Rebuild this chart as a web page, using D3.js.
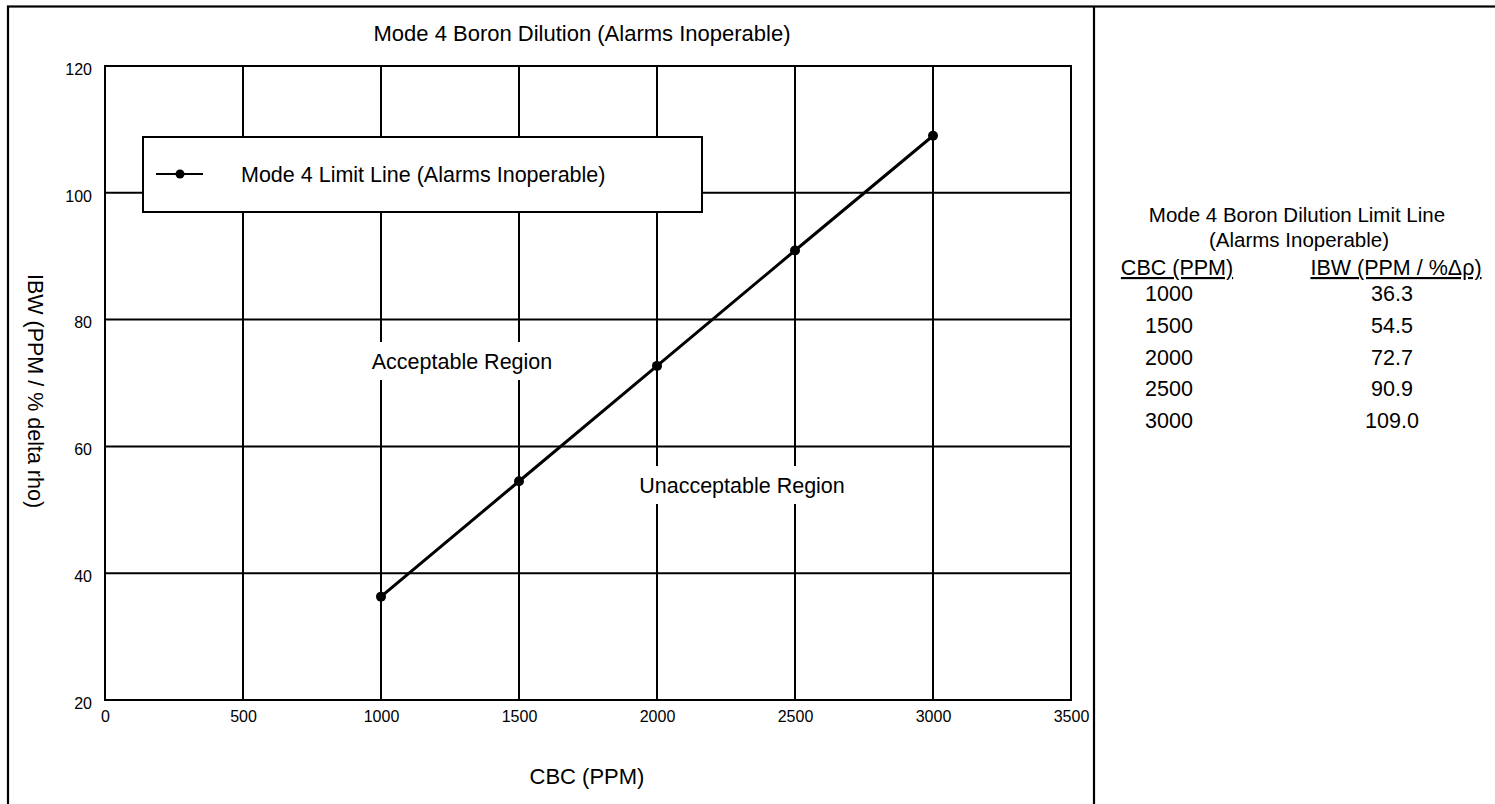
<!DOCTYPE html>
<html><head><meta charset="utf-8">
<script src="https://cdn.jsdelivr.net/npm/d3@7"></script>
<style>body{margin:0;background:#fff}text{font-family:"Liberation Sans",Arial,sans-serif;fill:#000}</style>
</head><body>
<svg id="c" width="1495" height="804"></svg>
<script>
const cbc = [1000, 1500, 2000, 2500, 3000];
const ibw = [36.3, 54.5, 72.7, 90.9, 109.0];
const xTicks = [0, 500, 1000, 1500, 2000, 2500, 3000, 3500];
const yTicks = [20, 40, 60, 80, 100, 120];
const tableCbc = ["1000", "1500", "2000", "2500", "3000"];
const tableIbw = ["36.3", "54.5", "72.7", "90.9", "109.0"];

const FONT = "Liberation Sans, Arial, sans-serif";
const svg = d3.select("#c");
const x = d3.scaleLinear().domain([0, 3500]).range([105, 1071]);
const y = d3.scaleLinear().domain([20, 120]).range([700, 66]);

// outer frame
svg.append("rect").attr("x", 8).attr("y", 6.5).attr("width", 1500).attr("height", 820)
  .attr("fill", "none").attr("stroke", "#000").attr("stroke-width", 2.2);
svg.append("line").attr("x1", 1094).attr("x2", 1094).attr("y1", 6).attr("y2", 804)
  .attr("stroke", "#000").attr("stroke-width", 2.2);

// grid
const g = svg.append("g");
g.selectAll(".vg").data(xTicks).join("line")
  .attr("x1", d => x(d)).attr("x2", d => x(d)).attr("y1", y(120)).attr("y2", y(20))
  .attr("stroke", "#000").attr("stroke-width", 2);
g.selectAll(".hg").data(yTicks).join("line")
  .attr("y1", d => y(d)).attr("y2", d => y(d)).attr("x1", x(0) - 1).attr("x2", x(3500) + 1)
  .attr("stroke", "#000").attr("stroke-width", 2);

// axes labels
const xAxis = d3.axisBottom(x).tickValues(xTicks).tickSize(0).tickPadding(11).tickFormat(d3.format("d"));
const xa = svg.append("g").attr("transform", `translate(0,${y(20)})`).call(xAxis);
xa.select(".domain").remove();
xa.selectAll("text").attr("font-size", 16).attr("font-family", FONT);
const yAxis = d3.axisLeft(y).tickValues(yTicks).tickSize(0).tickPadding(13).tickFormat(d3.format("d"));
const ya = svg.append("g").attr("transform", `translate(${x(0)},0)`).call(yAxis);
ya.select(".domain").remove();
ya.selectAll("text").attr("font-size", 16).attr("font-family", FONT).attr("dy", "0.52em");

// titles
svg.append("text").attr("x", 582).attr("y", 41).attr("text-anchor", "middle").attr("font-size", 22)
  .text("Mode 4 Boron Dilution (Alarms Inoperable)");
svg.append("text").attr("x", 587).attr("y", 784).attr("text-anchor", "middle").attr("font-size", 22)
  .text("CBC (PPM)");
svg.append("text").attr("transform", "translate(28,391) rotate(90)").attr("text-anchor", "middle").attr("font-size", 21.5)
  .text("IBW (PPM / % delta rho)");

// region labels with white background
function region(txt, cx, cy) {
  const t = svg.append("text").attr("x", cx).attr("y", cy + 7.5).attr("text-anchor", "middle")
    .attr("font-size", 21.5).text(txt);
  const b = t.node().getBBox();
  svg.insert("rect", function(){ return t.node(); })
    .attr("x", b.x - 3).attr("y", cy - 19).attr("width", b.width + 6).attr("height", 38).attr("fill", "#fff");
}
region("Acceptable Region", 462, 361);
region("Unacceptable Region", 742, 485);

// data line
const line = d3.line().x((d, i) => x(cbc[i])).y(d => y(d));
svg.append("path").datum(ibw).attr("d", line).attr("fill", "none").attr("stroke", "#000").attr("stroke-width", 3);
svg.selectAll(".pt").data(ibw).join("circle").attr("cx", (d, i) => x(cbc[i])).attr("cy", d => y(d))
  .attr("r", 5).attr("fill", "#000");

// legend
svg.append("rect").attr("x", 143).attr("y", 137).attr("width", 559).attr("height", 75)
  .attr("fill", "#fff").attr("stroke", "#000").attr("stroke-width", 2);
svg.append("line").attr("x1", 156).attr("x2", 203).attr("y1", 174).attr("y2", 174).attr("stroke", "#000").attr("stroke-width", 2);
svg.append("circle").attr("cx", 180).attr("cy", 174).attr("r", 4.5).attr("fill", "#000");
svg.append("text").attr("x", 241).attr("y", 182).attr("font-size", 21.5).text("Mode 4 Limit Line (Alarms Inoperable)");

// table
svg.append("text").attr("x", 1297).attr("y", 222).attr("text-anchor", "middle").attr("font-size", 20.5)
  .text("Mode 4 Boron Dilution Limit Line");
svg.append("text").attr("x", 1299).attr("y", 247).attr("text-anchor", "middle").attr("font-size", 20.5)
  .text("(Alarms Inoperable)");
svg.append("text").attr("x", 1177).attr("y", 275).attr("text-anchor", "middle").attr("font-size", 21.5)
  .attr("text-decoration", "underline").text("CBC (PPM)");
svg.append("text").attr("x", 1396).attr("y", 275).attr("text-anchor", "middle").attr("font-size", 21.5)
  .attr("text-decoration", "underline").text("IBW (PPM / %Δρ)");
const rowY = d3.scaleLinear().domain([0, 4]).range([301, 428]);
svg.selectAll(".tc").data(tableCbc).join("text").attr("x", 1169).attr("y", (d, i) => rowY(i))
  .attr("text-anchor", "middle").attr("font-size", 21.5).text(d => d);
svg.selectAll(".ti").data(tableIbw).join("text").attr("x", 1392).attr("y", (d, i) => rowY(i))
  .attr("text-anchor", "middle").attr("font-size", 21.5).text(d => d);
</script>
</body></html>
